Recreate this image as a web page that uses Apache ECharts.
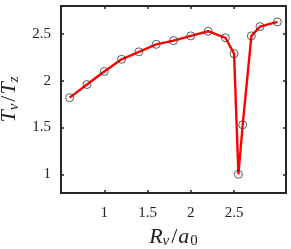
<!DOCTYPE html>
<html><head><meta charset="utf-8">
<script src="https://cdn.jsdelivr.net/npm/echarts@6/dist/echarts.min.js"></script>
<style>html,body{margin:0;padding:0;background:#fff}#c{width:291px;height:249px}</style>
</head><body><div id="c"></div>
<script>
const rv = [0.6, 0.8, 1.0, 1.2, 1.4, 1.6, 1.8, 2.0, 2.2, 2.4, 2.5, 2.55, 2.6, 2.7, 2.8, 3.0];
const ratio = [1.82, 1.96, 2.10, 2.23, 2.31, 2.39, 2.43, 2.48, 2.53, 2.46, 2.29, 1.0, 1.53, 2.48, 2.58, 2.63];
const xTicks = [1, 1.5, 2, 2.5];
const yTicks = [1, 1.5, 2, 2.5];

const font = 'Liberation Serif';
const axisColor = '#262626';
const txt = '#222';
const tickLabel = v => String(v);
function axisCommon(extra){
  return Object.assign({
    type:'value',
    axisLine:{show:true,onZero:false,lineStyle:{color:axisColor,width:2}},
    splitLine:{show:false},
  }, extra);
}
const tickStyle = vals => ({show:true,inside:true,length:3,customValues:vals,lineStyle:{color:axisColor,width:1.5}});
const chart = echarts.init(document.getElementById('c'));
chart.setOption({
  animation:false,
  backgroundColor:'#fff',
  grid:{left:61,right:5,top:6,bottom:56,containLabel:false,outerBoundsMode:'none'},
  xAxis:[
    axisCommon({min:0.5,max:3.1,position:'bottom',
      axisTick:tickStyle(xTicks),
      axisLabel:{customValues:xTicks,formatter:tickLabel,fontFamily:font,fontSize:15,color:txt,margin:13},
      name:'{i|R}{sv|v}{n|/}{i|a}{s0|0}',nameLocation:'middle',nameGap:30,
      nameTextStyle:{fontFamily:font,color:txt,rich:{
        i:{fontFamily:font,fontStyle:'italic',fontSize:22,color:txt},
        n:{fontFamily:font,fontSize:22,color:txt,padding:[0,1,0,2]},
        sv:{fontFamily:font,fontStyle:'italic',fontSize:15,color:txt,padding:[9,0,0,0]},
        s0:{fontFamily:font,fontSize:15,color:txt,padding:[9,0,0,1]}
      }}}),
    axisCommon({min:0.5,max:3.1,position:'top',axisTick:tickStyle(xTicks),axisLabel:{show:false}})
  ],
  yAxis:[
    axisCommon({min:0.8,max:2.8,position:'left',
      axisTick:tickStyle(yTicks),
      axisLabel:{customValues:yTicks,formatter:tickLabel,fontFamily:font,fontSize:15,color:txt,margin:10},
      name:'{i|T}{sv|v}{n|/}{i|T}{sv|z}',nameLocation:'middle',nameGap:36,nameRotate:90,
      nameTextStyle:{fontFamily:font,color:txt,rich:{
        i:{fontFamily:font,fontStyle:'italic',fontSize:22,color:txt},
        n:{fontFamily:font,fontSize:22,color:txt,padding:[0,1,0,2]},
        sv:{fontFamily:font,fontStyle:'italic',fontSize:15,color:txt,padding:[9,0,0,0]}
      }}}),
    axisCommon({min:0.8,max:2.8,position:'right',axisTick:tickStyle(yTicks),axisLabel:{show:false}})
  ],
  series:[{
    type:'line',
    data: rv.map((x,i)=>[x, ratio[i]]),
    lineStyle:{color:'#ff0000',width:2.4},
    symbol:'circle',symbolSize:8,
    itemStyle:{color:'rgba(0,0,0,0)',borderColor:'#333',borderWidth:0.8},
    emphasis:{disabled:true},
    z:3
  }]
});
</script></body></html>
